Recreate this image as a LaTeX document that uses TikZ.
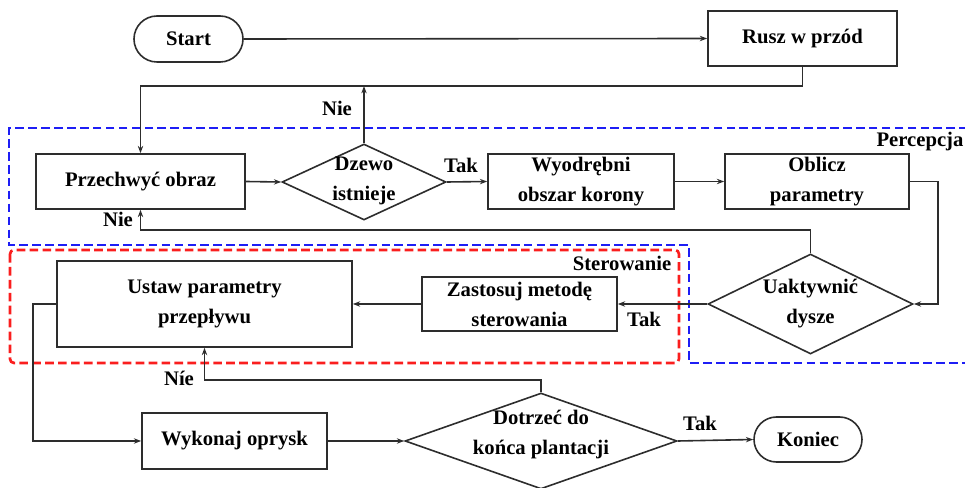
\documentclass[tikz,border=0pt]{standalone}
\usepackage{fontspec}
\setmainfont{Liberation Serif}
\usetikzlibrary{shapes.geometric,shapes.misc,arrows.meta}
\definecolor{percblue}{RGB}{30,30,245}
\definecolor{sterred}{RGB}{250,30,30}
\definecolor{linegray}{RGB}{45,45,45}
\begin{document}
\begin{tikzpicture}[x=0.75pt,y=-0.75pt,
  every node/.style={font=\rmfamily\bfseries\fontsize{15.5}{22.5}\selectfont, align=center, inner sep=0pt},
  proc/.style={draw=linegray, line width=1.2pt, rectangle},
  term/.style={draw=linegray, line width=1.2pt, rounded rectangle},
  decision/.style={draw=linegray, line width=1.2pt, diamond},
  conn/.style={draw=linegray, line width=1.2pt},
  arr/.style={conn, -{Stealth[length=5.5pt,width=4pt]}},
  zone/.style={line width=2pt, dash pattern=on 6.5pt off 3.2pt},
  tag/.style={font=\rmfamily\bfseries\fontsize{15.5}{18}\selectfont}]
\useasboundingbox (0,0) rectangle (965,488);

% dashed regions
\draw[zone, percblue] (968,128) -- (9,128) -- (9,245) -- (689,245) -- (689,363) -- (968,363);
\draw[zone, sterred, rounded corners=3pt] (10,250) rectangle (679,363);
\node[tag] (perc) at (920,142) {Percepcja};
\node[tag] (ster) at (622,263) {Sterowanie};

% helper coordinates for the routed connectors
\coordinate (loopY) at (0,86);
\coordinate (nieY) at (0,230);
\coordinate (retY) at (0,380);
\coordinate (rx) at (938,0);
\coordinate (lx) at (33,0);

% blocks
\node[term, minimum width=81.75pt, minimum height=34.5pt] (start) at (188.5,39) {Start};
\node[proc, minimum width=141.75pt, minimum height=41.25pt] (rusz) at (802.5,38.5) {Rusz w przód};
\node[proc, minimum width=156.75pt, minimum height=41.25pt] (prz) at (140.5,181.5) {Przechwyć obraz};
\node[decision, minimum width=123pt, minimum height=57pt] (d1) at (364,182) {};
\node (d1t) at (364,181) {Dzewo\\istnieje};
\node[proc, minimum width=139.5pt, minimum height=41.25pt] (wyod) at (581,181.5) {Wyodrębni\\obszar korony};
\node[proc, minimum width=138pt, minimum height=41.25pt] (obl) at (817,181.5) {Oblicz\\parametry};
\node[decision, minimum width=153.75pt, minimum height=75pt] (d2) at (810.5,304) {};
\node (d2t) at (810.5,304) {Uaktywnić\\dysze};
\node[proc, minimum width=146.25pt, minimum height=40.5pt] (zast) at (519.5,304) {Zastosuj metodę\\sterowania};
\node[proc, minimum width=221.25pt, minimum height=64.5pt] (ustaw) at (204.5,304) {Ustaw parametry\\przepływu};
\node[proc, minimum width=138.75pt, minimum height=42pt] (wyk) at (234.5,441) {Wykonaj oprysk};
\node[decision, minimum width=204pt, minimum height=72pt] (d3) at (541,441) {};
\node (d3t) at (541,435) {Dotrzeć do\\końca plantacji};
\node[term, minimum width=81pt, minimum height=33.75pt] (kon) at (808,439.5) {Koniec};

% connectors
\draw[arr] (start.east) -- (rusz.west);
\draw[arr] (rusz.south) |- (prz.north |- loopY) -- (prz.north);
\draw[arr] (d1.north) -- (d1.north |- loopY);
\draw[arr] (prz.east) -- (d1.west);
\draw[arr] (d1.east) -- (wyod.west);
\draw[arr] (wyod.east) -- (obl.west);
\draw[arr] (obl.east) -- (obl.east -| rx) |- (d2.east);
\draw[arr] (d2.north) |- (prz.south |- nieY) -- (prz.south);
\draw[arr] (d2.west) -- (zast.east);
\draw[arr] (zast.west) -- (ustaw.east);
\draw[arr] (ustaw.west) -- (ustaw.west -| lx) |- (wyk.west);
\draw[arr] (wyk.east) -- (d3.west);
\draw[arr] (d3.north) |- (ustaw.south |- retY) -- (ustaw.south);
\draw[arr] (d3.east) -- (kon.west);

% branch labels
\node[tag] (n1) at (337,108) {Nie};
\node[tag] (t1) at (461,165) {Tak};
\node[tag] (n2) at (118,219) {Nie};
\node[tag] (t2) at (644,319) {Tak};
\node[tag] (n3) at (179,378) {Níe};
\node[tag] (t3) at (700,423) {Tak};
\end{tikzpicture}
\end{document}
